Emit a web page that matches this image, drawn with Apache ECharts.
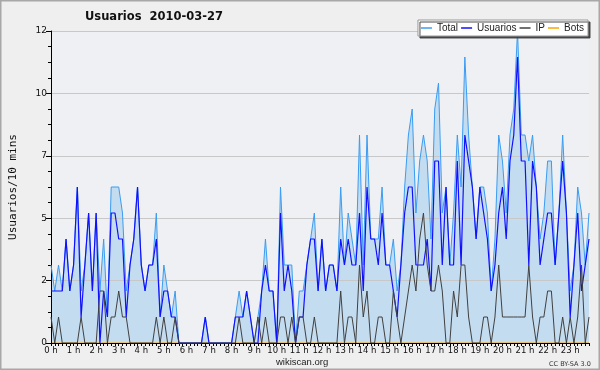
<!DOCTYPE html>
<html>
<head>
<meta charset="utf-8">
<script src="https://cdn.jsdelivr.net/npm/echarts@6/dist/echarts.min.js"></script>
<style>html,body{margin:0;padding:0;background:#efefef}#c{width:600px;height:370px}</style>
</head>
<body>
<div id="c"></div>
<script>
const hourLabels = ['0 h','1 h','2 h','3 h','4 h','5 h','6 h','7 h','8 h','9 h','10 h','11 h',
  '12 h','13 h','14 h','15 h','16 h','17 h','18 h','19 h','20 h','21 h','22 h','23 h'];
const yTickLabels = ['0','2','5','7','10','12'];

// values per 10-minute slot (144 slots)
const total = [
  3,2,3,2,4,2,3,6,2,3, 5,2,5,2,4,1,6,6,6,5, 2,3,4,6,3,2,3,3,5,1,
  3,2,1,2,0,0,0,0,0,0, 0,1,0,0,0,0,0,0,0,1, 2,1,2,1,0,1,2,4,2,2,
  0,6,3,3,3,0,2,2,3,4, 5,2,4,2,3,3,2,6,3,5, 4,3,8,3,8,4,4,4,6,3,
  3,4,2,3,6,8,9,5,7,8, 7,4,9,10,5,6,3,5,8,6, 11,8,6,4,6,6,5,2,4,8,
  7,5,8,9,12,8,8,7,8,6, 4,5,7,7,3,5,8,5,2,3, 6,5,3,5
];
const usuarios = [
  2,2,2,2,4,2,3,6,1,3, 5,2,5,0,2,1,5,5,4,4, 1,3,4,6,3,2,3,3,4,1,
  2,2,1,1,0,0,0,0,0,0, 0,1,0,0,0,0,0,0,0,1, 1,1,2,1,0,0,2,3,2,2,
  0,5,2,3,2,0,1,1,3,4, 4,2,4,2,3,3,2,4,3,4, 3,3,5,2,6,4,4,3,5,3,
  3,2,1,3,5,6,6,3,3,3, 4,2,7,7,3,6,3,3,7,3, 8,7,6,4,6,5,4,2,3,5,
  6,4,7,8,11,7,7,3,7,6, 3,4,5,5,3,5,7,5,1,3, 5,2,3,4
];
const ip = [
  1,0,1,0,0,0,0,0,1,0, 0,0,0,2,2,0,1,1,2,1, 1,0,0,0,0,0,0,0,1,0,
  1,0,0,1,0,0,0,0,0,0, 0,0,0,0,0,0,0,0,0,0, 1,0,0,0,0,1,0,1,0,0,
  0,1,1,0,1,0,1,1,0,0, 1,0,0,0,0,0,0,2,0,1, 1,0,3,1,2,0,0,1,1,0,
  0,2,1,0,1,2,3,2,4,5, 3,2,2,3,2,0,0,2,1,3, 3,1,0,0,0,1,1,0,1,3,
  1,1,1,1,1,1,1,3,1,0, 1,1,2,2,0,0,1,0,1,0, 1,3,0,1
];
const bots = [
  0,0,0,0,0,0,0,0,0,0, 0,0,0,0,0,0,0,0,0,0, 0,0,0,0,0,0,0,0,0,0,
  0,0,0,0,0,0,0,0,0,0, 0,0,0,0,0,0,0,0,0,0, 0,0,0,0,0,0,0,0,0,0,
  0,0,0,0,0,0,0,0,0,0, 0,0,0,0,0,0,0,0,0,0, 0,0,0,0,0,0,0,0,0,0,
  0,0,0,0,0,0,0,0,0,0, 0,0,0,0,0,0,0,0,0,0, 0,0,0,0,0,0,0,0,0,0,
  0,0,0,0,0,0,0,0,0,0, 0,0,0,0,0,0,0,0,0,0, 0,0,0,0
];

const slots = total.map((_, i) => hourLabels[Math.floor(i / 6)] + ' ' + (i % 6) * 10);

const chart = echarts.init(document.getElementById('c'), null, {renderer: 'canvas'});
const lineBase = {type: 'line', showSymbol: false, symbol: 'none', smooth: false, animation: false};
chart.setOption({
  backgroundColor: '#efefef',
  animation: false,
  textStyle: {fontFamily: 'DejaVu Sans'},
  title: {
    text: 'Usuarios  2010-03-27', left: 85, top: 11, padding: 0,
    textStyle: {fontFamily: 'DejaVu Sans', fontSize: 11.5, fontWeight: 'bold', color: '#111'}
  },
  legend: {
    data: ['Total', 'Usuarios', 'IP', 'Bots'],
    right: 12, top: 20, padding: [3, 4, 3, 3], itemGap: 3,
    icon: 'rect', itemWidth: 11, itemHeight: 1.5,
    backgroundColor: '#ffffff', borderColor: '#999', borderWidth: 1,
    shadowColor: 'rgba(60,60,60,0.9)', shadowOffsetX: 2, shadowOffsetY: 2, shadowBlur: 0,
    textStyle: {fontFamily: 'Liberation Sans', fontSize: 10, color: '#222'},
    selectedMode: false
  },
  grid: {left: 46, right: 11, top: 31, bottom: 27, show: true, backgroundColor: '#eef0f3', borderWidth: 0},
  xAxis: {
    type: 'category', boundaryGap: false, data: slots, z: 2,
    axisLine: {show: true, lineStyle: {color: '#000', width: 1}},
    axisTick: {show: true, interval: 0, length: 3, lineStyle: {color: '#000'}},
    axisLabel: {
      interval: (i) => i % 6 === 0,
      formatter: (v, i) => hourLabels[Math.floor(i / 6)],
      fontFamily: 'DejaVu Sans', fontSize: 8.5, color: '#111', margin: 3
    },
    splitLine: {show: false}
  },
  yAxis: {
    type: 'value', min: 0, max: 12, interval: 2.4, z: 2,
    name: 'Usuarios/10 mins', nameLocation: 'middle', nameGap: 32,
    nameTextStyle: {fontFamily: 'DejaVu Sans Mono', fontSize: 11, color: '#111'},
    axisLine: {show: true, lineStyle: {color: '#000'}},
    axisTick: {show: true, length: 5, lineStyle: {color: '#000'}},
    minorTick: {show: true, splitNumber: 4, length: 3, lineStyle: {color: '#000'}},
    axisLabel: {
      formatter: (v) => yTickLabels[Math.round(v / 2.4)],
      fontFamily: 'DejaVu Sans', fontSize: 9, color: '#111', margin: 4
    },
    splitLine: {show: true, lineStyle: {color: '#c8c8c8', width: 1}}
  },
  series: [
    Object.assign({}, lineBase, {name: '_fill', data: total, z: 1, lineStyle: {width: 0}, areaStyle: {color: '#c4dcf0', opacity: 1}, silent: true}),
    Object.assign({}, lineBase, {name: 'Bots', data: bots, z: 1.5, color: '#ffa500', lineStyle: {color: '#ffa500', width: 1}}),
    Object.assign({}, lineBase, {name: 'Total', data: total, z: 3, color: '#3a9cf2', lineStyle: {color: '#3a9cf2', width: 1}}),
    Object.assign({}, lineBase, {name: 'Usuarios', data: usuarios, z: 4, color: '#1010ff', lineStyle: {color: '#1010ff', width: 1.2}}),
    Object.assign({}, lineBase, {name: 'IP', data: ip, z: 5, color: '#404040', lineStyle: {color: '#404040', width: 1}})
  ],
  graphic: [
    {type: 'text', left: 276, top: 357, style: {text: 'wikiscan.org', fontFamily: 'Liberation Sans', fontSize: 9.5, fill: '#222'}},
    {type: 'text', left: 549, top: 361, style: {text: 'CC BY-SA 3.0', fontFamily: 'DejaVu Sans', fontSize: 6.5, fill: '#333'}},
    {type: 'rect', shape: {x: 0.5, y: 0.5, width: 599, height: 369}, style: {fill: 'none', stroke: '#a8a8a8', lineWidth: 2}, silent: true}
  ]
});
</script>
</body>
</html>
